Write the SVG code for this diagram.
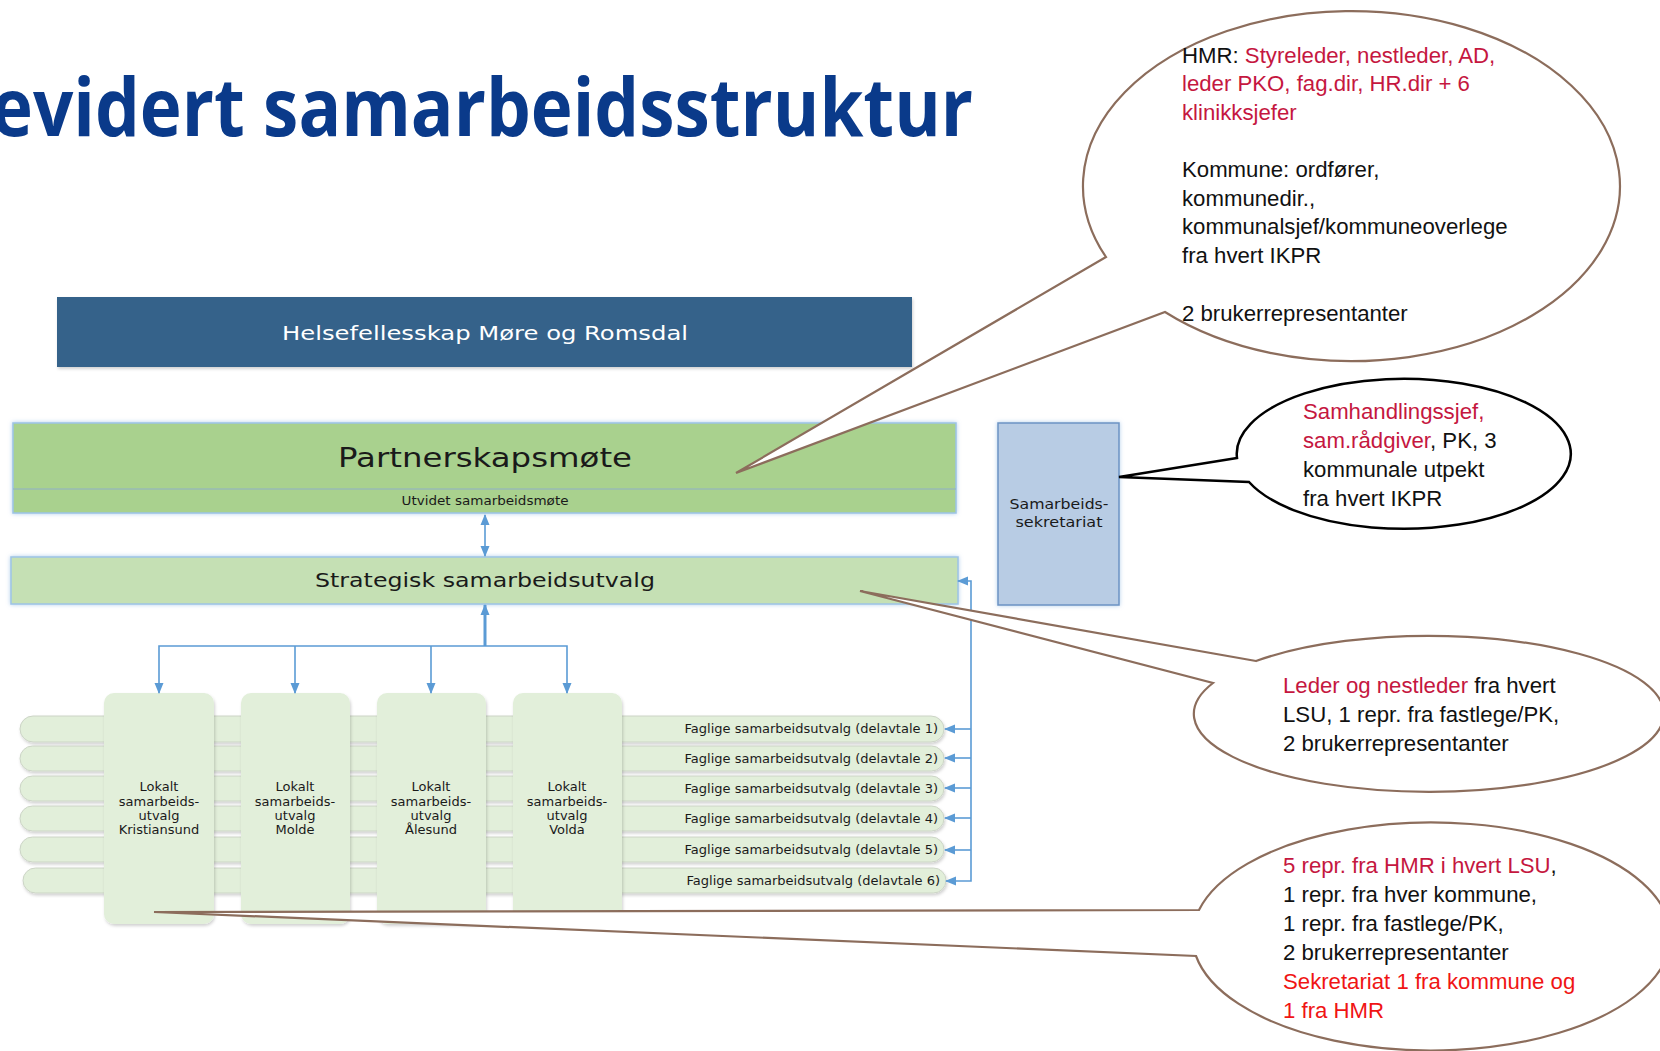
<svg xmlns="http://www.w3.org/2000/svg" width="1660" height="1051" viewBox="0 0 1660 1051">
<defs>
<style>
.dj{font-family:"DejaVu Sans","Liberation Sans",sans-serif;fill:#1a1a1a}
.cl{font-family:"Liberation Sans","Noto Sans",sans-serif;font-size:22.2px;fill:#111}
.cr{fill:#C5173F}
.rd{fill:#F01414}
.row{fill:#E2EFDA;stroke:#CCD4C6;stroke-width:1}
.lok{fill:#E2EFDA}
.rl{font-size:13px;text-anchor:end}
.lt{font-size:13px;text-anchor:middle}
.blue{stroke:#5B9BD5;stroke-width:1.6;fill:none}
.call{fill:#fff;stroke:#8C6D5C;stroke-width:2.2}
</style>
<marker id="ah" markerWidth="11" markerHeight="10" refX="10" refY="5" orient="auto-start-reverse" markerUnits="userSpaceOnUse">
<path d="M0,0.5 L11,5 L0,9.5 z" fill="#5B9BD5"/>
</marker>
<filter id="sh" x="-10%" y="-10%" width="120%" height="130%">
<feDropShadow dx="1" dy="2" stdDeviation="1.5" flood-color="#000" flood-opacity="0.18"/>
</filter>
<filter id="gl" x="-5%" y="-20%" width="110%" height="140%">
<feDropShadow dx="0" dy="0" stdDeviation="2" flood-color="#9DC3E6" flood-opacity="0.8"/>
</filter>
</defs>
<rect width="1660" height="1051" fill="#fff"/>

<text x="-9" y="136" font-family="'Open Sans','Liberation Sans',sans-serif" font-weight="700" font-size="80" fill="#0A3A8A" textLength="982" lengthAdjust="spacingAndGlyphs">evidert samarbeidsstruktur</text>

<g id="helse">
<rect x="57" y="297" width="855" height="70" fill="#36628A" filter="url(#sh)"/>
<text class="dj" x="485" y="340" font-size="20" text-anchor="middle" style="fill:#fff" textLength="406" lengthAdjust="spacingAndGlyphs">Helsefellesskap Møre og Romsdal</text>
</g>

<g id="partnerskap">
<rect x="13" y="423" width="943" height="90" fill="#A9D18E" stroke="#9DC3E6" stroke-width="1.5" filter="url(#gl)"/>
<line x1="13" y1="489" x2="956" y2="489" stroke="#8FAEC8" stroke-width="1"/>
<text class="dj" x="485" y="467" font-size="27" text-anchor="middle" textLength="294" lengthAdjust="spacingAndGlyphs">Partnerskapsmøte</text>
<text class="dj" x="485" y="505" font-size="12" text-anchor="middle" textLength="167" lengthAdjust="spacingAndGlyphs">Utvidet samarbeidsmøte</text>
</g>

<g id="strategisk">
<rect x="11" y="557" width="947" height="47" fill="#C5E0B4" stroke="#9DC3E6" stroke-width="1.5" filter="url(#gl)"/>
<text class="dj" x="485" y="587" font-size="20" text-anchor="middle" textLength="340" lengthAdjust="spacingAndGlyphs">Strategisk samarbeidsutvalg</text>
</g>

<g id="sekretariat">
<rect x="998" y="423" width="121" height="182" fill="#B8CCE4" stroke="#6C93C4" stroke-width="1.5" filter="url(#gl)"/>
<text class="dj" x="1059" y="509" font-size="14" text-anchor="middle" textLength="99" lengthAdjust="spacingAndGlyphs">Samarbeids-</text>
<text class="dj" x="1059" y="527" font-size="14" text-anchor="middle" textLength="87" lengthAdjust="spacingAndGlyphs">sekretariat</text>
</g>

<g id="faglige">
<rect class="row" x="20" y="716" width="924" height="26" rx="13" filter="url(#sh)"/>
<rect class="row" x="20" y="746" width="924" height="25" rx="12.5" filter="url(#sh)"/>
<rect class="row" x="20" y="776" width="924" height="25" rx="12.5" filter="url(#sh)"/>
<rect class="row" x="20" y="806" width="924" height="25" rx="12.5" filter="url(#sh)"/>
<rect class="row" x="20" y="837" width="924" height="25" rx="12.5" filter="url(#sh)"/>
<rect class="row" x="23" y="868" width="923" height="25" rx="12.5" filter="url(#sh)"/>
<text class="dj rl" x="938" y="733">Faglige samarbeidsutvalg (delavtale 1)</text>
<text class="dj rl" x="938" y="763">Faglige samarbeidsutvalg (delavtale 2)</text>
<text class="dj rl" x="938" y="793">Faglige samarbeidsutvalg (delavtale 3)</text>
<text class="dj rl" x="938" y="823">Faglige samarbeidsutvalg (delavtale 4)</text>
<text class="dj rl" x="938" y="854">Faglige samarbeidsutvalg (delavtale 5)</text>
<text class="dj rl" x="940" y="885">Faglige samarbeidsutvalg (delavtale 6)</text>
</g>

<g id="lsu-kristiansund">
<rect class="lok" x="104" y="693" width="110" height="231" rx="10" filter="url(#sh)"/>
<text class="dj lt" x="159"><tspan x="159" y="791">Lokalt</tspan><tspan x="159" y="806">samarbeids-</tspan><tspan x="159" y="820">utvalg</tspan><tspan x="159" y="834">Kristiansund</tspan></text>
</g>
<g id="lsu-molde">
<rect class="lok" x="241" y="693" width="109" height="231" rx="10" filter="url(#sh)"/>
<text class="dj lt" x="295"><tspan x="295" y="791">Lokalt</tspan><tspan x="295" y="806">samarbeids-</tspan><tspan x="295" y="820">utvalg</tspan><tspan x="295" y="834">Molde</tspan></text>
</g>
<g id="lsu-alesund">
<rect class="lok" x="377" y="693" width="109" height="231" rx="10" filter="url(#sh)"/>
<text class="dj lt" x="431"><tspan x="431" y="791">Lokalt</tspan><tspan x="431" y="806">samarbeids-</tspan><tspan x="431" y="820">utvalg</tspan><tspan x="431" y="834">Ålesund</tspan></text>
</g>
<g id="lsu-volda">
<rect class="lok" x="513" y="693" width="109" height="231" rx="10" filter="url(#sh)"/>
<text class="dj lt" x="567"><tspan x="567" y="791">Lokalt</tspan><tspan x="567" y="806">samarbeids-</tspan><tspan x="567" y="820">utvalg</tspan><tspan x="567" y="834">Volda</tspan></text>
</g>

<g id="connectors">
<line class="blue" x1="485" y1="515" x2="485" y2="556" marker-start="url(#ah)" marker-end="url(#ah)"/>
<line x1="485" y1="646" x2="485" y2="605" stroke="#5B9BD5" stroke-width="3" marker-end="url(#ah)"/>
<polyline class="blue" points="159,693 159,646 567,646 567,693" marker-start="url(#ah)" marker-end="url(#ah)"/>
<line class="blue" x1="295" y1="646" x2="295" y2="693" marker-end="url(#ah)"/>
<line class="blue" x1="431" y1="646" x2="431" y2="693" marker-end="url(#ah)"/>
<polyline class="blue" points="958,581 971,581 971,881 946,881" marker-start="url(#ah)" marker-end="url(#ah)"/>
<line class="blue" x1="971" y1="729" x2="945" y2="729" marker-end="url(#ah)"/>
<line class="blue" x1="971" y1="758" x2="945" y2="758" marker-end="url(#ah)"/>
<line class="blue" x1="971" y1="788" x2="945" y2="788" marker-end="url(#ah)"/>
<line class="blue" x1="971" y1="818" x2="945" y2="818" marker-end="url(#ah)"/>
<line class="blue" x1="971" y1="850" x2="945" y2="850" marker-end="url(#ah)"/>
</g>

<g id="callout-hmr">
<path class="call" d="M1106 257 L736 473 L1165 312 A268.5 175 0 1 0 1106 257 Z"/>
<text class="cl" x="1182" y="63">HMR: <tspan class="cr">Styreleder, nestleder, AD,</tspan></text>
<text class="cl cr" x="1182" y="91">leder PKO, fag.dir, HR.dir + 6</text>
<text class="cl cr" x="1182" y="120">klinikksjefer</text>
<text class="cl" x="1182" y="177">Kommune: ordfører,</text>
<text class="cl" x="1182" y="206">kommunedir.,</text>
<text class="cl" x="1182" y="234">kommunalsjef/kommuneoverlege</text>
<text class="cl" x="1182" y="263">fra hvert IKPR</text>
<text class="cl" x="1182" y="321">2 brukerrepresentanter</text>
</g>

<g id="callout-sekretariat">
<path d="M1237 458 L1119 477 L1249 482 A167 75 0 1 0 1237 458 Z" fill="#fff" stroke="#000" stroke-width="2.5"/>
<text class="cl cr" x="1303" y="419">Samhandlingssjef,</text>
<text class="cl" x="1303" y="448"><tspan class="cr">sam.rådgiver</tspan>, PK, 3</text>
<text class="cl" x="1303" y="477">kommunale utpekt</text>
<text class="cl" x="1303" y="506">fra hvert IKPR</text>
</g>

<g id="callout-ssu">
<path class="call" d="M1256 661 L860 591 L1213 683 A235 78 0 1 0 1256 661 Z"/>
<text class="cl" x="1283" y="693"><tspan class="cr">Leder og nestleder</tspan> fra hvert</text>
<text class="cl" x="1283" y="722">LSU, 1 repr. fra fastlege/PK,</text>
<text class="cl" x="1283" y="751">2 brukerrepresentanter</text>
</g>

<g id="callout-lsu">
<path class="call" d="M1199 910 L154 912 L1196 956 A239 114 0 1 0 1199 910 Z"/>
<text class="cl" x="1283" y="873"><tspan class="cr">5 repr. fra HMR i hvert LSU</tspan>,</text>
<text class="cl" x="1283" y="902">1 repr. fra hver kommune,</text>
<text class="cl" x="1283" y="931">1 repr. fra fastlege/PK,</text>
<text class="cl" x="1283" y="960">2 brukerrepresentanter</text>
<text class="cl rd" x="1283" y="989">Sekretariat 1 fra kommune og</text>
<text class="cl rd" x="1283" y="1018">1 fra HMR</text>
</g>
</svg>
